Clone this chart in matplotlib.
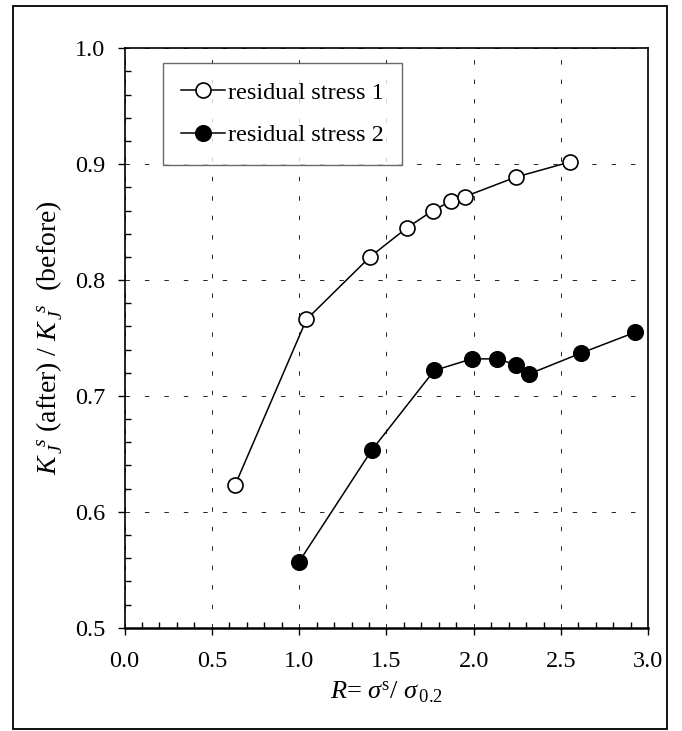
import matplotlib
matplotlib.use("Agg")
import matplotlib.pyplot as plt
from matplotlib.ticker import MultipleLocator, FormatStrFormatter
from matplotlib.patches import Rectangle

# residual stress 1 (open circles)
r1 = [0.633, 1.042, 1.406, 1.617, 1.766, 1.869, 1.949, 2.244, 2.554]
k1 = [0.623, 0.766, 0.820, 0.845, 0.860, 0.868, 0.872, 0.889, 0.902]
# residual stress 2 (filled circles)
r2 = [1.0, 1.415, 1.774, 1.989, 2.135, 2.24, 2.318, 2.615, 2.926]
k2 = [0.557, 0.653, 0.722, 0.732, 0.732, 0.727, 0.719, 0.737, 0.755]

labels = ["residual stress 1", "residual stress 2"]

plt.rcParams['font.family'] = ['Liberation Serif', 'DejaVu Serif']
plt.rcParams['mathtext.fontset'] = 'custom'
plt.rcParams['mathtext.rm'] = 'Liberation Serif'
plt.rcParams['mathtext.it'] = 'Liberation Serif:italic'
plt.rcParams['mathtext.bf'] = 'Liberation Serif:bold'

fig = plt.figure(figsize=(6.82, 7.31), dpi=100)
ax = fig.add_axes([0.1826, 0.1413, 0.768, 0.7926])

ax.plot(r1, k1, '-o', color='k', lw=1.1, markersize=10.8,
        markerfacecolor='white', markeredgecolor='k', markeredgewidth=1.2,
        label=labels[0], zorder=3)
ax.plot(r2, k2, '-o', color='k', lw=1.1, markersize=11.2,
        markerfacecolor='k', markeredgecolor='k', markeredgewidth=1.1,
        label=labels[1], zorder=3)

ax.set_xlim(0, 3.0)
ax.set_ylim(0.5, 1.0)
ax.xaxis.set_major_locator(MultipleLocator(0.5))
ax.xaxis.set_minor_locator(MultipleLocator(0.1))
ax.yaxis.set_major_locator(MultipleLocator(0.1))
ax.yaxis.set_minor_locator(MultipleLocator(0.02))
ax.xaxis.set_major_formatter(FormatStrFormatter('%.1f'))
ax.yaxis.set_major_formatter(FormatStrFormatter('%.1f'))

ax.tick_params(which='major', direction='out', length=5, width=1, labelsize=17.5)
ax.tick_params(axis='x', which='major', pad=12)
ax.tick_params(axis='y', which='major', pad=9)
ax.tick_params(which='minor', direction='in', length=4, width=1)

ax.grid(True, which='major', color='#222222', lw=0.7, linestyle=(0, (4.6, 15.4)))

for side in ['left', 'top', 'right']:
    ax.spines[side].set_linewidth(1.2)
ax.spines['bottom'].set_linewidth(1.8)

ax.set_xlabel(r'$R$= $\sigma^{\mathrm{s}}$/ $\sigma_{\,0.2}$', fontsize=19, labelpad=5)
ax.set_ylabel(r'$K_{\,J}^{\;\;s}$ (after) / $K_{\,J}^{\;\;s}$  (before)', fontsize=20, labelpad=7)

leg = ax.legend(loc='upper left', bbox_to_anchor=(0.073, 0.974), fontsize=17.5,
                frameon=True, fancybox=False, handlelength=1.8, handletextpad=0.15,
                labelspacing=0.85, borderpad=0.75, borderaxespad=0)
leg.get_frame().set_edgecolor('#444444')
leg.get_frame().set_linewidth(1.0)

# outer frame round the whole figure
fig.patches.append(Rectangle((0.0186, 0.003), 0.959, 0.989, transform=fig.transFigure,
                             fill=False, edgecolor='k', lw=1.3))

fig.savefig('out.png', dpi=100)
